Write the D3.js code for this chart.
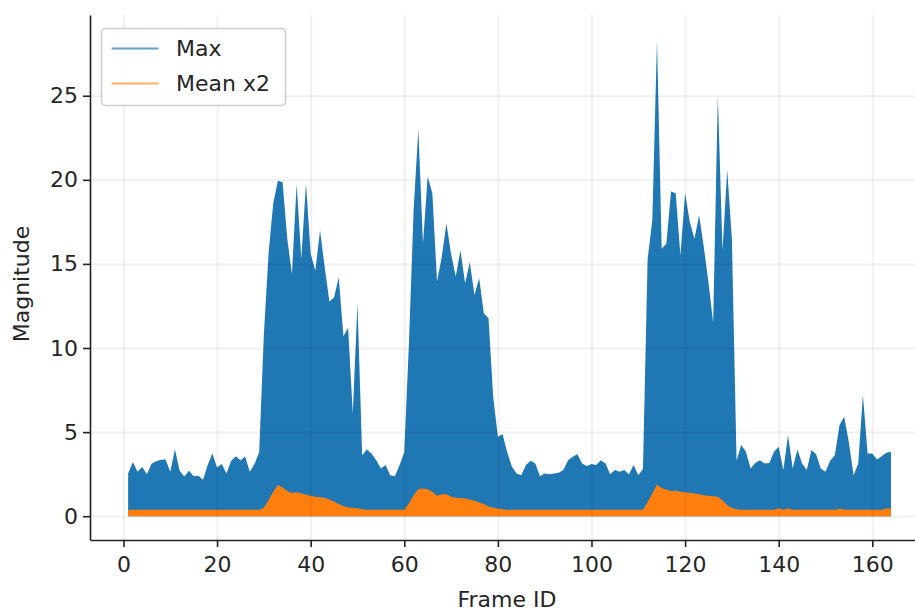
<!DOCTYPE html>
<html>
<head>
<meta charset="utf-8">
<script src="https://d3js.org/d3.v7.min.js"></script>
<style>
    body { margin: 0; background: #fff; }
    svg text { font-family: "DejaVu Sans", sans-serif; fill: #262626; }
</style>
</head>
<body>
<div id="chart"></div>
<script>

// per-frame values, frame ids start at 1
var firstFrame = 1;

var maxValues = [
    2.54, 3.23, 2.64, 2.92, 2.49, 3.12, 3.26, 3.35, 3.37, 2.64,
    3.98, 2.70, 2.36, 2.70, 2.38, 2.40, 2.17, 3.05, 3.73, 2.90,
    3.10, 2.54, 3.28, 3.57, 3.33, 3.55, 2.64, 3.10, 3.80, 10.8,
    15.6, 18.6, 19.95, 19.85, 16.5, 14.4, 19.75, 15.3, 19.8, 15.6,
    14.6, 17.0, 14.8, 12.76, 13.0, 14.2, 10.7, 11.2, 6.1, 12.66,
    3.63, 3.97, 3.73, 3.33, 2.84, 3.04, 2.44, 2.38, 3.04, 3.80,
    10.3, 18.2, 23.0, 16.2, 20.2, 19.2, 13.95, 15.4, 17.4, 15.6,
    14.25, 15.8, 13.85, 15.1, 13.15, 14.15, 12.06, 11.77, 7.1, 4.72,
    4.88, 3.80, 2.94, 2.54, 2.44, 3.04, 3.29, 3.13, 2.38, 2.54,
    2.50, 2.54, 2.58, 2.74, 3.33, 3.53, 3.69, 3.13, 2.98, 3.10,
    3.04, 3.33, 3.13, 2.50, 2.74, 2.64, 2.74, 2.50, 3.04, 2.44,
    2.80, 15.3, 17.6, 28.3, 15.9, 16.2, 19.3, 19.2, 15.5, 19.2,
    17.5, 16.5, 17.9, 16.0, 13.9, 11.5, 25.0, 15.8, 20.6, 16.5,
    3.30, 4.23, 3.83, 2.84, 3.17, 3.33, 3.13, 3.17, 3.83, 4.13,
    2.74, 4.82, 2.84, 3.97, 3.13, 2.74, 3.93, 3.69, 2.84, 2.64,
    3.29, 3.63, 5.42, 5.91, 4.40, 2.44, 3.13, 7.20, 3.73, 3.73,
    3.37, 3.57, 3.77, 3.83
];

var meanX2Values = [
    0.38, 0.38, 0.38, 0.38, 0.38, 0.38, 0.38, 0.38, 0.38, 0.38,
    0.38, 0.38, 0.38, 0.38, 0.38, 0.38, 0.38, 0.38, 0.38, 0.38,
    0.38, 0.38, 0.38, 0.38, 0.38, 0.38, 0.38, 0.38, 0.38, 0.50,
    0.95, 1.45, 1.85, 1.70, 1.50, 1.38, 1.42, 1.36, 1.28, 1.22,
    1.15, 1.13, 1.10, 1.00, 0.88, 0.72, 0.60, 0.52, 0.50, 0.48,
    0.42, 0.38, 0.38, 0.38, 0.38, 0.38, 0.38, 0.38, 0.38, 0.38,
    0.75, 1.25, 1.60, 1.65, 1.60, 1.45, 1.22, 1.30, 1.30, 1.15,
    1.10, 1.08, 1.05, 1.00, 0.92, 0.82, 0.72, 0.58, 0.50, 0.46,
    0.42, 0.38, 0.38, 0.38, 0.38, 0.38, 0.38, 0.38, 0.38, 0.38,
    0.38, 0.38, 0.38, 0.38, 0.38, 0.38, 0.38, 0.38, 0.38, 0.38,
    0.38, 0.38, 0.38, 0.38, 0.38, 0.38, 0.38, 0.38, 0.38, 0.38,
    0.38, 0.85, 1.35, 1.88, 1.68, 1.58, 1.50, 1.52, 1.45, 1.42,
    1.40, 1.35, 1.30, 1.25, 1.22, 1.18, 1.15, 0.95, 0.65, 0.50,
    0.42, 0.38, 0.38, 0.38, 0.38, 0.38, 0.38, 0.38, 0.38, 0.48,
    0.38, 0.48, 0.38, 0.38, 0.38, 0.38, 0.38, 0.38, 0.38, 0.38,
    0.38, 0.38, 0.44, 0.40, 0.38, 0.38, 0.38, 0.38, 0.38, 0.38,
    0.38, 0.38, 0.46, 0.46
];

var xTicks = [0, 20, 40, 60, 80, 100, 120, 140, 160];
var yTicks = [0, 5, 10, 15, 20, 25];
var seriesNames = ["Max", "Mean x2"];

var width = 915,
    height = 612,
    fontSize = "22px";

var svg = d3.select("#chart")
    .append("svg")
    .attr("width", width)
    .attr("height", height);

var x = d3.scaleLinear()
    .domain([-7.15, 171.05])
    .range([90, 924]);

var y = d3.scaleLinear()
    .domain([-1.415, 29.8])
    .range([540, 15]);

function toPoints(values) {
    return values.map(function (v, i) { return {frame: firstFrame + i, value: v}; });
}

var area = d3.area()
    .x(function (d) { return x(d.frame); })
    .y0(y(0))
    .y1(function (d) { return y(d.value); });

svg.append("path")
    .datum(toPoints(maxValues))
    .attr("d", area)
    .attr("fill", "#1f77b4");

svg.append("path")
    .datum(toPoints(meanX2Values))
    .attr("d", area)
    .attr("fill", "#ff7f0e");

// grid on top, faint
svg.append("g")
    .attr("class", "grid")
    .attr("transform", "translate(0,540)")
    .call(d3.axisBottom(x).tickValues(xTicks).tickSize(-525).tickFormat(""));

svg.append("g")
    .attr("class", "grid")
    .attr("transform", "translate(90,0)")
    .call(d3.axisLeft(y).tickValues(yTicks).tickSize(-834).tickFormat(""));

svg.selectAll(".grid .domain").remove();
svg.selectAll(".grid line")
    .attr("stroke", "#000")
    .attr("stroke-opacity", 0.06)
    .attr("stroke-width", 2);

// axes
var xAxis = svg.append("g")
    .attr("transform", "translate(0,540)")
    .call(d3.axisBottom(x).tickValues(xTicks).tickSize(7).tickPadding(9).tickSizeOuter(0));

var yAxis = svg.append("g")
    .attr("transform", "translate(90,0)")
    .call(d3.axisLeft(y).tickValues(yTicks).tickSize(7).tickPadding(5).tickSizeOuter(0));

[xAxis, yAxis].forEach(function (g) {
    g.select(".domain").attr("stroke", "#222").attr("stroke-width", 1.6);
    g.selectAll(".tick line").attr("stroke", "#222").attr("stroke-width", 1.6);
    g.selectAll(".tick text").style("font-size", fontSize).style("font-family", "DejaVu Sans").attr("fill", "#262626");
});

svg.append("text")
    .attr("x", 507)
    .attr("y", 607)
    .attr("text-anchor", "middle")
    .style("font-size", fontSize)
    .text("Frame ID");

svg.append("text")
    .attr("transform", "translate(29,284) rotate(-90)")
    .attr("text-anchor", "middle")
    .style("font-size", fontSize)
    .text("Magnitude");

// legend
var legend = svg.append("g");

legend.append("rect")
    .attr("x", 101.5)
    .attr("y", 28.5)
    .attr("width", 184)
    .attr("height", 77)
    .attr("rx", 4)
    .attr("fill", "#fff")
    .attr("fill-opacity", 0.8)
    .attr("stroke", "#cccccc")
    .attr("stroke-width", 1.5);

var legendColors = ["#62a0cb", "#ffb26e"];

seriesNames.forEach(function (name, i) {
    var ly = 48.5 + i * 35;
    legend.append("line")
        .attr("x1", 111.5)
        .attr("x2", 158.5)
        .attr("y1", ly)
        .attr("y2", ly)
        .attr("stroke", legendColors[i])
        .attr("stroke-width", 2);
    legend.append("text")
        .attr("x", 176)
        .attr("y", ly)
        .attr("dy", "0.36em")
        .style("font-size", fontSize)
        .text(name);
});

</script>
</body>
</html>
